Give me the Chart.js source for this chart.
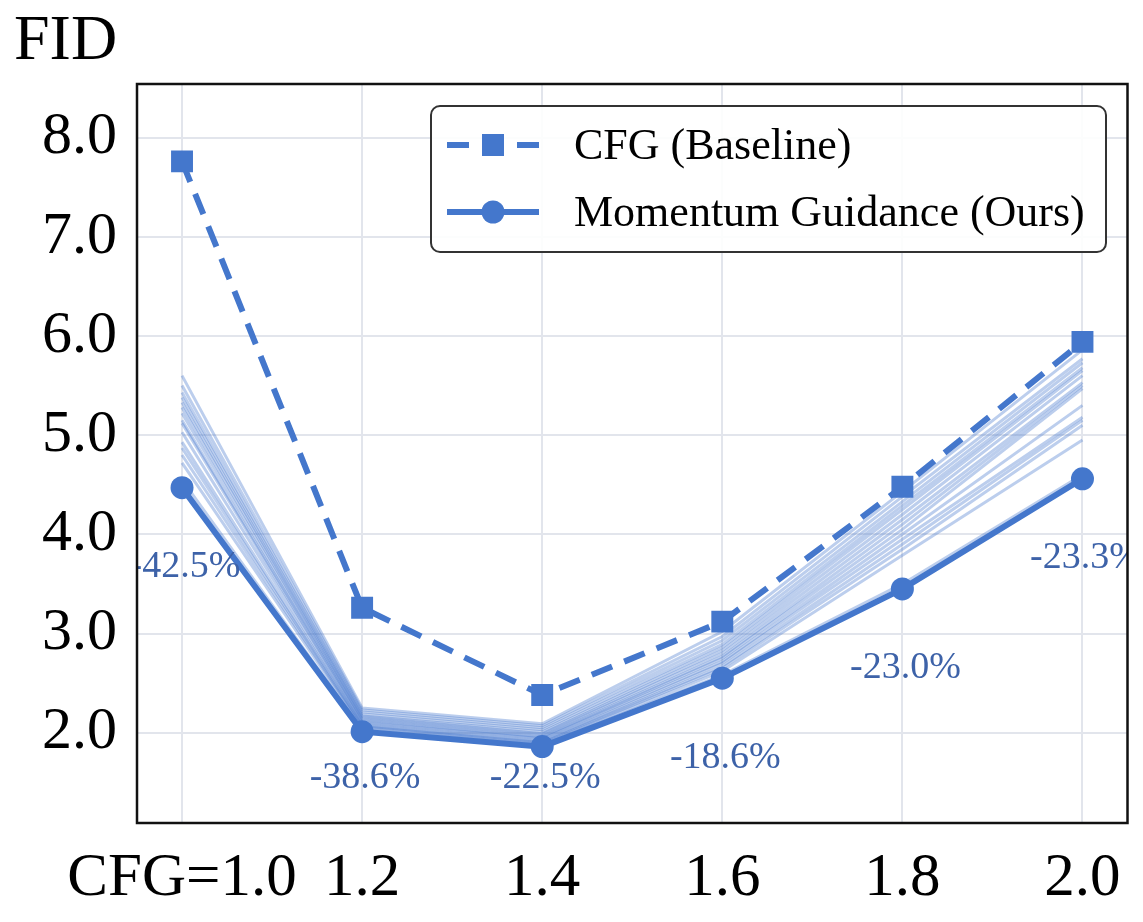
<!DOCTYPE html>
<html>
<head>
<meta charset="utf-8">
<script src="https://cdn.jsdelivr.net/npm/chart.js@4.4.1/dist/chart.umd.min.js"></script>
<style>
  html, body { margin: 0; padding: 0; background: #fff; }
  #wrap { width: 1143px; height: 922px; }
</style>
</head>
<body>
<div id="wrap"><canvas id="fidChart"></canvas></div>
<script>
// CFG scale values on the x axis
const cfgScales = [1.0, 1.2, 1.4, 1.6, 1.8, 2.0];
const yTicks = [2, 3, 4, 5, 6, 7, 8];

// FID of the baseline and of our method
const cfgBaseline = [7.76, 3.26, 2.38, 3.12, 4.48, 5.94];
const momentumOurs = [4.47, 2.01, 1.86, 2.55, 3.45, 4.56];
const reductionLabels = ['-42.5%', '-38.6%', '-22.5%', '-18.6%', '-23.0%', '-23.3%'];

// faint lines (other momentum settings), one array per CFG value
const sweepAt10 = [5.60, 5.50, 5.43, 5.38, 5.33, 5.28, 5.22, 5.15, 5.12, 5.03, 4.93, 4.87, 4.80, 4.72, 4.55];
const sweepAt12 = [2.25, 2.23, 2.21, 2.19, 2.17, 2.16, 2.14, 2.13, 2.11, 2.10, 2.08, 2.07, 2.06, 2.05, 2.03];
const sweepAt14 = [2.09, 2.07, 2.05, 2.03, 2.01, 1.99, 1.98, 1.96, 1.95, 1.94, 1.92, 1.91, 1.90, 1.89, 1.88];
const sweepAt16 = [3.02, 2.97, 2.93, 2.89, 2.86, 2.83, 2.80, 2.77, 2.75, 2.72, 2.70, 2.67, 2.65, 2.62, 2.58];
const sweepAt18 = [4.43, 4.38, 4.33, 4.29, 4.25, 4.20, 4.15, 4.10, 4.05, 4.00, 3.95, 3.90, 3.85, 3.79, 3.50];
const sweepAt20 = [5.86, 5.77, 5.73, 5.68, 5.65, 5.60, 5.53, 5.50, 5.47, 5.30, 5.18, 5.15, 5.10, 4.95, 4.60];

const blue = '#4477cc';
const labelBlue = '#3d62a8';
const serif = "'Liberation Serif', 'DejaVu Serif', serif";

function toPoints(values) {
    return values.map((v, i) => ({ x: cfgScales[i], y: v }));
}

let sweepColumns = [sweepAt10, sweepAt12, sweepAt14, sweepAt16, sweepAt18, sweepAt20];
let datasets = [];

for (let k = 0; k < sweepAt10.length; k++) {
    datasets.push({
        label: 'sweep' + k,
        data: toPoints(sweepColumns.map(col => col[k])),
        borderColor: 'rgba(68,119,204,0.36)',
        borderWidth: 3,
        pointRadius: 0,
        order: 5
    });
}

datasets.push({
    label: 'CFG (Baseline)',
    data: toPoints(cfgBaseline),
    borderColor: blue,
    backgroundColor: blue,
    borderWidth: 6,
    borderDash: [22, 13],
    pointStyle: 'rect',
    pointRadius: 15.5,
    pointBorderWidth: 0,
    order: 2
});

datasets.push({
    label: 'Momentum Guidance (Ours)',
    data: toPoints(momentumOurs),
    borderColor: blue,
    backgroundColor: blue,
    borderWidth: 6,
    pointStyle: 'circle',
    pointRadius: 11.5,
    pointBorderWidth: 0,
    order: 1
});

// percentage labels under the momentum points
const reductionPlugin = {
    id: 'reductionLabels',
    afterDatasetsDraw(chart) {
        const ctx = chart.ctx;
        const area = chart.chartArea;
        const xs = chart.scales.x, ys = chart.scales.y;
        ctx.save();
        ctx.beginPath();
        ctx.rect(area.left, area.top, area.right - area.left, area.bottom - area.top);
        ctx.clip();
        ctx.font = '38px ' + serif;
        ctx.fillStyle = labelBlue;
        ctx.textAlign = 'center';
        ctx.textBaseline = 'middle';
        reductionLabels.forEach((txt, i) => {
            let yVal = Math.max(momentumOurs[i] - 0.8, 1.54);
            ctx.fillText(txt, xs.getPixelForValue(cfgScales[i]) + 3, ys.getPixelForValue(yVal));
        });
        ctx.restore();
    }
};

// frame, axis title and legend box
const framePlugin = {
    id: 'frameAndLegend',
    afterDraw(chart) {
        const ctx = chart.ctx;
        const a = chart.chartArea;
        ctx.save();
        ctx.strokeStyle = '#111';
        ctx.lineWidth = 2.5;
        ctx.strokeRect(a.left, a.top, a.right - a.left, a.bottom - a.top);

        ctx.fillStyle = '#000';
        ctx.font = '64px ' + serif;
        ctx.textAlign = 'left';
        ctx.textBaseline = 'alphabetic';
        ctx.fillText('FID', 14, 59);

        // legend
        const bx = 431, by = 106, bw = 675, bh = 146, r = 9;
        ctx.beginPath();
        ctx.roundRect(bx, by, bw, bh, r);
        ctx.fillStyle = 'rgba(255,255,255,0.9)';
        ctx.fill();
        ctx.strokeStyle = '#333';
        ctx.lineWidth = 2;
        ctx.stroke();

        const rows = [
            { y: 145, text: 'CFG (Baseline)', dash: [22, 13], marker: 'rect' },
            { y: 212, text: 'Momentum Guidance (Ours)', dash: [], marker: 'circle' }
        ];
        rows.forEach(row => {
            ctx.beginPath();
            ctx.setLineDash(row.dash);
            ctx.lineDashOffset = 0;
            ctx.strokeStyle = blue;
            ctx.lineWidth = 6;
            ctx.moveTo(447, row.y);
            ctx.lineTo(539, row.y);
            ctx.stroke();
            ctx.setLineDash([]);
            ctx.fillStyle = blue;
            if (row.marker === 'rect') {
                ctx.fillRect(482, row.y - 11, 22, 22);
            } else {
                ctx.beginPath();
                ctx.arc(493, row.y, 11.5, 0, Math.PI * 2);
                ctx.fill();
            }
            ctx.fillStyle = '#000';
            ctx.font = '44px ' + serif;
            ctx.textBaseline = 'middle';
            ctx.fillText(row.text, 574, row.y + 2);
        });
        ctx.restore();
    }
};

new Chart(
    document.getElementById('fidChart'),
    {
        type: 'line',
        data: { datasets: datasets },
        options: {
            responsive: true,
            maintainAspectRatio: false,
            animation: false,
            layout: { padding: { top: 84, right: 15, left: 0, bottom: 0 } },
            plugins: {
                legend: { display: false },
                tooltip: { enabled: false }
            },
            scales: {
                x: {
                    type: 'linear',
                    min: 0.95,
                    max: 2.05,
                    afterBuildTicks(scale) {
                        scale.ticks = cfgScales.map(v => ({ value: v }));
                    },
                    afterFit(scale) { scale.height = 99; },
                    ticks: {
                        padding: 19,
                        font: { family: serif, size: 61 },
                        color: '#000',
                        maxRotation: 0,
                        autoSkip: false,
                        callback: (v) => (v === cfgScales[0] ? 'CFG=' : '') + Number(v).toFixed(1)
                    },
                    grid: { color: '#e2e5ec', lineWidth: 2, drawTicks: false },
                    border: { display: false }
                },
                y: {
                    min: 1.09,
                    max: 8.54,
                    afterBuildTicks(scale) {
                        scale.ticks = yTicks.map(v => ({ value: v }));
                    },
                    afterFit(scale) { scale.width = 137; },
                    ticks: {
                        padding: 20,
                        font: { family: serif, size: 60 },
                        color: '#000',
                        callback: (v) => Number(v).toFixed(1)
                    },
                    grid: { color: '#e2e5ec', lineWidth: 2, drawTicks: false },
                    border: { display: false }
                }
            }
        },
        plugins: [reductionPlugin, framePlugin]
    }
);
</script>
</body>
</html>
